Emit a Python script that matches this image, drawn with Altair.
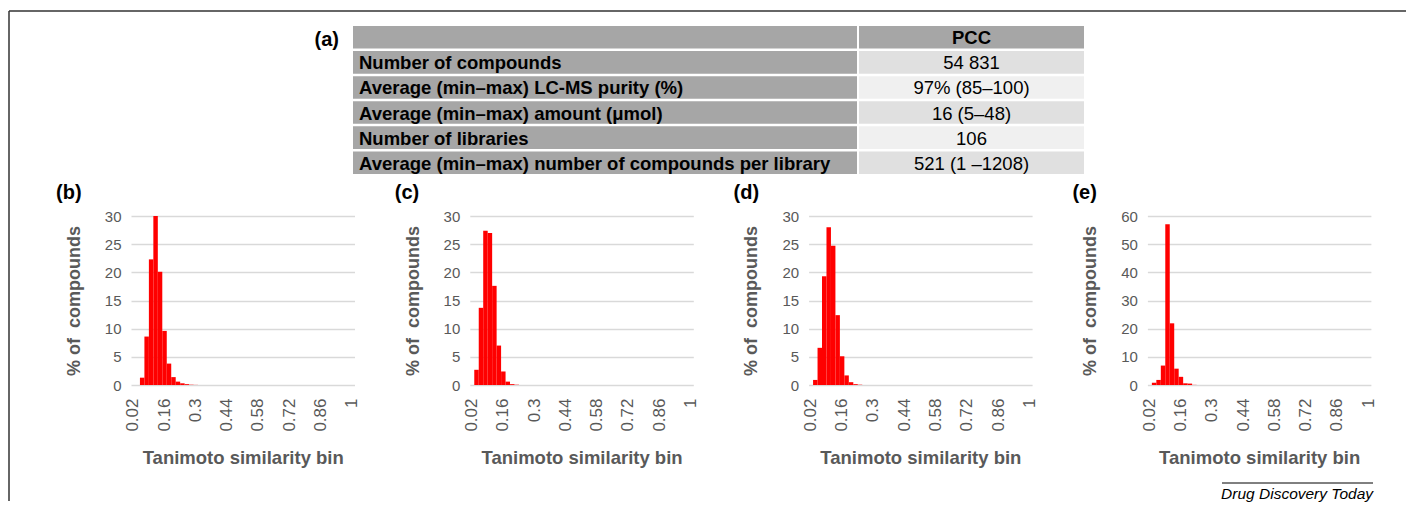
import altair as alt
import pandas as pd

FONT = "Liberation Sans"
GRAY_TXT = "#595959"

# ---------------- table (a) ----------------
row_ids = [0, 1, 2, 3, 4, 5]
row_labels = ["",
              "Number of compounds",
              "Average (min\u2013max) LC-MS purity (%)",
              "Average (min\u2013max) amount (\u03bcmol)",
              "Number of libraries",
              "Average (min\u2013max) number of compounds per library"]
pcc_values = ["PCC", "54 831", "97% (85\u2013100)", "16 (5\u201348)", "106", "521 (1 \u20131208)"]
right_shades = ["#a6a6a6", "#e0e0e0", "#f0f0f0", "#e0e0e0", "#f0f0f0", "#e0e0e0"]

# ---------------- histograms (b)-(e) ----------------
bins = ["0.02", "0.04", "0.06", "0.08", "0.1", "0.12", "0.14", "0.16", "0.18", "0.2",
        "0.22", "0.24", "0.26", "0.28", "0.3", "0.32", "0.34", "0.36", "0.38", "0.4",
        "0.42", "0.44", "0.46", "0.48", "0.5", "0.52", "0.54", "0.56", "0.58", "0.6",
        "0.62", "0.64", "0.66", "0.68", "0.7", "0.72", "0.74", "0.76", "0.78", "0.8",
        "0.82", "0.84", "0.86", "0.88", "0.9", "0.92", "0.94", "0.96", "0.98", "1"]
x_tick_labels = ["0.02", "0.16", "0.3", "0.44", "0.58", "0.72", "0.86", "1"]

pct_b = [0.0, 0.0, 1.3, 8.6, 22.3, 30.0, 20.1, 9.6, 3.8, 1.4,
         0.6, 0.3, 0.15, 0.05, 0.02, 0.0, 0.0, 0.0, 0.0, 0.0,
         0.0, 0.0, 0.0, 0.0, 0.0, 0.0, 0.0, 0.0, 0.0, 0.0,
         0.0, 0.0, 0.0, 0.0, 0.0, 0.0, 0.0, 0.0, 0.0, 0.0,
         0.0, 0.0, 0.0, 0.0, 0.0, 0.0, 0.0, 0.0, 0.0, 0.0]
pct_c = [0.0, 2.7, 13.7, 27.4, 27.0, 17.6, 7.0, 2.4, 0.6, 0.15,
         0.05, 0.0, 0.0, 0.0, 0.0, 0.0, 0.0, 0.0, 0.0, 0.0,
         0.0, 0.0, 0.0, 0.0, 0.0, 0.0, 0.0, 0.0, 0.0, 0.0,
         0.0, 0.0, 0.0, 0.0, 0.0, 0.0, 0.0, 0.0, 0.0, 0.0,
         0.0, 0.0, 0.0, 0.0, 0.0, 0.0, 0.0, 0.0, 0.0, 0.0]
pct_d = [0.0, 0.9, 6.6, 19.3, 28.0, 24.7, 12.4, 5.1, 1.7, 0.5,
         0.15, 0.05, 0.0, 0.0, 0.0, 0.0, 0.0, 0.0, 0.0, 0.0,
         0.0, 0.0, 0.0, 0.0, 0.0, 0.0, 0.0, 0.0, 0.0, 0.0,
         0.0, 0.0, 0.0, 0.0, 0.0, 0.0, 0.0, 0.0, 0.0, 0.0,
         0.0, 0.0, 0.0, 0.0, 0.0, 0.0, 0.0, 0.0, 0.0, 0.0]
pct_e = [0.0, 0.8, 1.8, 6.9, 57.1, 21.9, 5.8, 2.9, 0.6, 0.5,
         0.05, 0.0, 0.0, 0.0, 0.0, 0.0, 0.0, 0.0, 0.0, 0.0,
         0.0, 0.0, 0.0, 0.0, 0.0, 0.0, 0.0, 0.0, 0.0, 0.0,
         0.0, 0.0, 0.0, 0.0, 0.0, 0.0, 0.0, 0.0, 0.0, 0.0,
         0.0, 0.0, 0.0, 0.0, 0.0, 0.0, 0.0, 0.0, 0.0, 0.0]
y_ticks_30 = [0, 5, 10, 15, 20, 25, 30]
y_ticks_60 = [0, 10, 20, 30, 40, 50, 60]

PW, PH = 223.5, 169
TBL_H = 148
TFS = 18.5
TOP_W = 953          # from left edge of panel (b) plot to right edge of the table
LX0, LX1 = 222, 726  # left table column (within the top view)
RX0, RX1 = 728, 953  # right table column

# ---------- top view: table (a), frame, footer ----------
tdf = pd.DataFrame({"row": row_ids, "label": row_labels, "value": pcc_values})
yrow = alt.Y("row:O", axis=None, scale=alt.Scale(paddingInner=0.1, paddingOuter=0))

left_rect = alt.Chart(tdf).mark_rect(color="#a6a6a6").encode(
    y=yrow, x=alt.value(LX0), x2=alt.value(LX1))
left_text = alt.Chart(tdf).mark_text(
    align="left", baseline="middle", dx=6, dy=1, font=FONT, fontSize=TFS,
    fontWeight="bold", color="black").encode(y=yrow, x=alt.value(LX0), text="label:N")
right_rect = alt.Chart(tdf).mark_rect().encode(
    y=yrow, x=alt.value(RX0), x2=alt.value(RX1),
    color=alt.Color("row:O", scale=alt.Scale(domain=row_ids, range=right_shades), legend=None))
right_head = alt.Chart(tdf).transform_filter("datum.row == 0").mark_text(
    align="center", baseline="middle", dy=1, font=FONT, fontSize=TFS,
    fontWeight="bold", color="black").encode(y=yrow, x=alt.value((RX0 + RX1) / 2), text="value:N")
right_body = alt.Chart(tdf).transform_filter("datum.row > 0").mark_text(
    align="center", baseline="middle", dy=1, font=FONT, fontSize=TFS,
    color="black").encode(y=yrow, x=alt.value((RX0 + RX1) / 2), text="value:N")

one = pd.DataFrame({"t": ["(a)"]})
a_label = alt.Chart(one).mark_text(
    align="right", baseline="alphabetic", font=FONT, fontSize=20, fontWeight="bold",
    color="black").encode(x=alt.value(208), y=alt.value(19.5), text="t:N")
frame_top = alt.Chart(one).mark_rule(color="#333333", strokeWidth=1.5).encode(
    x=alt.value(-122), x2=alt.value(1275), y=alt.value(-15))
frame_left = alt.Chart(one).mark_rule(color="#333333", strokeWidth=1.5).encode(
    x=alt.value(-122), y=alt.value(-15), y2=alt.value(475))
footer_rule = alt.Chart(one).mark_rule(color="black", strokeWidth=1).encode(
    x=alt.value(1091), x2=alt.value(1242), y=alt.value(457))
footer_text = alt.Chart(pd.DataFrame({"t": ["Drug Discovery Today"]})).mark_text(
    align="right", baseline="alphabetic", font=FONT, fontSize=15.5, fontStyle="italic",
    color="black").encode(x=alt.value(1242), y=alt.value(473), text="t:N")

top_view = alt.layer(
    frame_top, frame_left, left_rect, left_text, right_rect, right_head, right_body,
    a_label, footer_rule, footer_text
).properties(width=TOP_W, height=TBL_H)


# ---------- histograms ----------
def hist(values, label, ymax, yticks):
    df = pd.DataFrame({"bin": bins, "pct": values})
    bars = alt.Chart(df).mark_bar(color="#ff0000").encode(
        x=alt.X("bin:O", sort=bins,
                scale=alt.Scale(paddingInner=0, paddingOuter=0),
                axis=alt.Axis(values=x_tick_labels, labelAngle=270, labelOverlap=False,
                              labelFont=FONT, labelFontSize=17, labelColor=GRAY_TXT,
                              labelPadding=13, domain=False, ticks=False, grid=False,
                              title="Tanimoto similarity bin", titleFont=FONT,
                              titleFontSize=18.5, titleFontWeight="bold",
                              titleColor=GRAY_TXT, titlePadding=17)),
        y=alt.Y("pct:Q", scale=alt.Scale(domain=[0, ymax], nice=False),
                axis=alt.Axis(values=yticks, labelFont=FONT, labelFontSize=15,
                              labelColor=GRAY_TXT, labelPadding=10, domain=False,
                              ticks=False, grid=True, gridColor="#d9d9d9", gridWidth=1.5,
                              title="% of\u00a0 compounds", titleFont=FONT,
                              titleFontSize=18, titleFontWeight="bold",
                              titleColor=GRAY_TXT, titlePadding=21)),
    )
    lab = alt.Chart(pd.DataFrame({"t": [label]})).mark_text(
        align="left", baseline="alphabetic", font=FONT, fontSize=20, fontWeight="bold",
        color="black").encode(x=alt.value(-75), y=alt.value(-17), text="t:N")
    return alt.layer(bars, lab).properties(width=PW, height=PH)


hb = hist(pct_b, "(b)", 30, y_ticks_30)
hc = hist(pct_c, "(c)", 30, y_ticks_30)
hd = hist(pct_d, "(d)", 30, y_ticks_30)
he = hist(pct_e, "(e)", 60, y_ticks_60)

bottom_row = alt.hconcat(hb, hc, hd, he, spacing=114.8, bounds="flush")

chart = alt.vconcat(top_view, bottom_row, spacing=42, bounds="flush").properties(
    padding={"left": 0, "top": 2, "right": 0, "bottom": 0}
).configure_view(stroke=None)

chart.save("out.html", embed_options={"renderer": "svg", "actions": False})
